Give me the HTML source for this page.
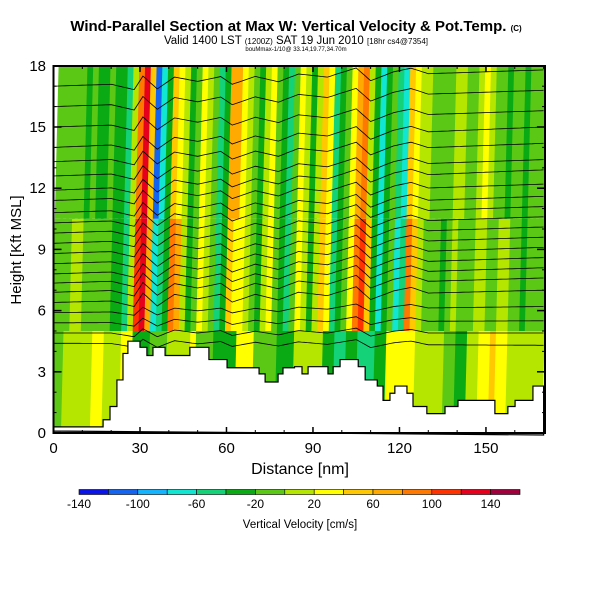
<!DOCTYPE html>
<html><head><meta charset="utf-8"><style>
body{margin:0;background:#fff;width:600px;height:600px;overflow:hidden;font-family:"Liberation Sans",sans-serif}
svg{position:absolute;left:0;top:0}
</style></head><body>
<svg id="c" width="600" height="600" viewBox="0 0 600 600">
<text x="296" y="31" text-anchor="middle" font-size="15" font-weight="bold">Wind-Parallel Section at Max W: Vertical Velocity &amp; Pot.Temp. <tspan font-size="8">(C)</tspan></text>
<text x="296" y="44" text-anchor="middle" font-size="11.5">Valid 1400 LST <tspan font-size="8">(1200Z)</tspan> SAT 19 Jun 2010 <tspan font-size="8">[18hr cs4@7354]</tspan></text>
<text x="296" y="51" text-anchor="middle" font-size="6">bouMmax-1/10@ 33.14,19.77,34.70m</text>
<g id="field"></g><g id="terr"></g><g id="cont"></g><g id="axes"></g><g id="cbar"></g>
</svg>
<script>
// ---- data ----
const palette=["#0a14e6","#1464f0","#14b4ff","#10e6d2","#14d278","#0aaa14","#5ac814","#b4e600","#ffff00","#ffc800","#ffaa00","#ff7800","#ff3200","#e6001e","#a0003c"];
const cbTicks=[-140,-100,-60,-20,20,60,100,140];
const colStep=2; // nm per column
const wTop=[-10,-10,-10,-10,-10,-25,-10,-25,-25,-10,-25,-25,-45,10,90,130,50,-110,-70,-30,50,20,10,-25,-10,30,10,-10,-50,-30,70,60,30,10,-10,-30,10,30,-10,-30,-50,-10,30,10,-30,10,50,30,-50,-30,-10,30,70,90,10,-30,-70,-30,-10,-50,-70,50,30,10,10,-10,-10,-10,-10,10,10,-10,-10,10,30,10,-10,-10,-30,-10,-10,-30,-10,-10,-10];
const wMid=[-10,-10,-10,10,10,-10,-10,-10,-10,-10,-25,-30,-50,10,110,130,70,-70,-50,-30,90,70,10,-25,-10,30,10,-10,-50,-30,50,30,30,10,-10,-30,10,30,-10,-30,-50,-10,30,10,-30,10,50,30,-50,-30,-10,30,90,110,50,-30,-70,-30,-10,-70,-50,90,50,10,-10,-10,-10,-30,-10,10,-10,-10,-10,10,10,-10,-10,10,10,-10,-10,-30,-10,-10,-10];
const wLow=[-10,-10,10,10,10,10,10,30,30,10,10,10,30,30,-30,-30,-30,-10,-10,-10,10,10,10,10,30,-10,-10,-10,-30,-30,-30,-30,30,30,30,-10,-10,-10,-10,-30,-30,-30,10,10,10,10,10,-30,-30,-50,-50,-30,-30,-50,-50,-50,-30,-30,30,30,30,30,30,10,10,10,10,10,-10,-10,-30,-30,10,10,30,30,50,30,30,10,10,10,10,10,10];
const terrNm=[0,17.2,19.6,22.0,24.1,25.8,30.0,32.4,34.5,38.7,47.3,53.9,60.2,71.3,73.4,77.9,79.6,83.6,86.2,88.3,95.2,97.0,99.4,105.7,108.1,112.3,114.3,116.7,118.4,122.6,124.7,129.5,135.8,140.3,153.1,157.6,160.1,166.3,170];
const terrKft=[0.3,0.65,1.3,2.6,3.9,4.5,4.2,3.8,4.2,3.8,4.2,3.6,3.2,2.9,2.5,2.9,3.2,3.25,2.9,3.25,2.9,3.25,3.6,3.25,2.6,2.3,1.6,1.95,2.3,1.95,1.3,0.95,1.3,1.6,0.95,1.3,1.6,2.3,2.3];
const thetaLeft=[17.0,16.0,15.0,14.0,13.3,12.6,11.9,11.4,10.8,10.3,9.8,9.3,8.8,8.3,7.8,7.35,6.9,6.4,5.9,5.4,4.9,4.4];
const thetaRight=[17.8,16.8,15.8,15.0,14.2,13.4,12.9,12.2,11.6,11.1,10.6,10.1,9.6,9.1,8.6,8.1,7.6,7.0,6.2,5.5,4.9,4.3];
const waveNm=[0,20,28,31,36,42,50,58,62,70,78,85,95,105,110,118,124,130,145,170];
const waveDz=[0,0,-0.3,0.35,-0.3,0.25,0,0.2,-0.2,0.15,-0.15,0.2,0,0.4,-0.25,0.15,0.3,0,0,0];
const xTicks=[0,30,60,90,120,150];
const yTicks=[0,3,6,9,12,15,18];
// ---- scales ----
const X=nm=>53.5+nm*2.883, Y=k=>433-k*20.4;
const NS="http://www.w3.org/2000/svg";
function mk(t,p,a){const e=document.createElementNS(NS,t);for(const k in a)e.setAttribute(k,a[k]);p.appendChild(e);return e;}
const col=v=>palette[Math.max(0,Math.min(14,Math.floor((v+140)/20)))];
const field=document.getElementById('field');
const pcl=mk('clipPath',field,{id:'pc'});
mk('rect',pcl,{x:53.5,y:66,width:491.5,height:367});
const fg=mk('g',field,{'clip-path':'url(#pc)'});
const tilt=0.025;
function band(arr,k0,k1,name){
  arr.forEach((v,i)=>{
    const x0=X(i*colStep),x1=X((i+1)*colStep)+0.6,y0=Y(k1),y1=Y(k0);
    const o0=(310-y0)*tilt,o1=(310-y1)*tilt;
    const p=mk('polygon',fg,{points:`${x0+o0-1},${y0} ${x1+o0+1},${y0} ${x1+o1+1},${y1} ${x0+o1-1},${y1}`,fill:col(v)});
    
    
  });
}
band(wLow,0,5.0,'low-level');
band(wMid,5.0,10.5,'mid-level');
band(wTop,10.5,18.5,'upper-level');
// terrain
let d=`M${X(0)},${Y(0)-2} `;
terrNm.forEach((n,i)=>{const nx=i+1<terrNm.length?terrNm[i+1]:170;d+=`L${X(n)},${Y(terrKft[i])} L${X(nx)},${Y(terrKft[i])} `;});
d+=`L${X(170)},${Y(0)+2} Z`;
const tp=mk('path',document.getElementById('terr'),{d:d,fill:'#fff',stroke:'#000','stroke-width':1.2});


// contour clip = above terrain
let cd=`M${X(0)},60 `;
terrNm.forEach((n,i)=>{const nx=i+1<terrNm.length?terrNm[i+1]:170;cd+=`L${X(n)},${Y(terrKft[i])} L${X(nx)},${Y(terrKft[i])} `;});
cd+=`L${X(170)},60 Z`;
const cont=document.getElementById('cont');
const cp=mk('clipPath',cont,{id:'tc'});mk('path',cp,{d:cd});
const cg=mk('g',cont,{'clip-path':'url(#tc)'});
thetaLeft.forEach((hl,j)=>{
  const hr=thetaRight[j];let pts=[];
  for(let n=0;n<=170;n+=1){
    let k=0;while(k<waveNm.length-2&&waveNm[k+1]<n)k++;
    const f=(n-waveNm[k])/(waveNm[k+1]-waveNm[k]);
    const dz=waveDz[k]+(waveDz[k+1]-waveDz[k])*Math.max(0,Math.min(1,f));
    const h=hl+(hr-hl)*n/170+dz*(hl>6?1:0.6);
    pts.push(X(n).toFixed(1)+','+Y(h).toFixed(1));
  }
  const pl=mk('polyline',cg,{points:pts.join(' '),fill:'none',stroke:'#000','stroke-width':0.8});
  
  
});
// axes
const ax=document.getElementById('axes');
const fr=mk('rect',ax,{x:53.5,y:66,width:491.5,height:367,fill:'none',stroke:'#000','stroke-width':2});


for(let n=0;n<=170;n+=10){const big=n%30==0,L=big?6:3;
  mk('line',ax,{x1:X(n),x2:X(n),y1:433,y2:433-L,stroke:'#000','stroke-width':big?1.5:1});
  mk('line',ax,{x1:X(n),x2:X(n),y1:66,y2:66+L,stroke:'#000','stroke-width':big?1.5:1});}
for(let k=0;k<=18;k++){const big=k%3==0,L=big?8:3;
  mk('line',ax,{x1:53.5,x2:53.5+L,y1:Y(k),y2:Y(k),stroke:'#000','stroke-width':big?1.5:1});
  mk('line',ax,{x1:545,x2:545-L,y1:Y(k),y2:Y(k),stroke:'#000','stroke-width':big?1.5:1});}
xTicks.forEach(v=>{const t=mk('text',ax,{x:X(v),y:453,'text-anchor':'middle','font-size':15});t.textContent=v;
  
  });
yTicks.forEach(v=>{const t=mk('text',ax,{x:46,y:Y(v)+5,'text-anchor':'end','font-size':15});t.textContent=v;
  
  });
const xt=mk('text',ax,{x:300,y:474,'text-anchor':'middle','font-size':16});xt.textContent='Distance [nm]';


const yt=mk('text',ax,{x:21,y:250,'text-anchor':'middle','font-size':15,transform:'rotate(-90 21 250)'});yt.textContent='Height [Kft MSL]';


// colorbar
const cb=document.getElementById('cbar');const cw=441/15;
palette.forEach((c,i)=>{const r=mk('rect',cb,{x:79+i*cw,y:489.5,width:cw,height:5,fill:c,stroke:'#000','stroke-width':0.6});
  
  });
cbTicks.forEach(v=>{const t=mk('text',cb,{x:79+(v+140)/20*cw,y:508,'text-anchor':'middle','font-size':12});t.textContent=v;
  
  });
const ct=mk('text',cb,{x:300,y:528,'text-anchor':'middle','font-size':11.5});ct.textContent='Vertical Velocity [cm/s]';


</script>
</body></html>
